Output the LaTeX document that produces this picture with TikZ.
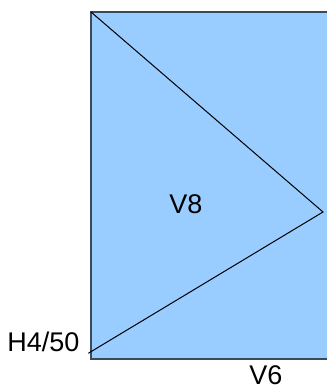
\documentclass[tikz,border=0pt]{standalone}
\usepackage{fontspec}
\setmainfont{Liberation Sans}
\definecolor{fillblue}{HTML}{99CCFF}
\definecolor{edgegray}{HTML}{3A4A5A}
\tikzset{
  lbl/.style={font=\fontsize{27}{30}\selectfont, inner sep=0pt, anchor=center},
  edge/.style={draw=black, line width=1pt}
}
\begin{document}
\begin{tikzpicture}[x=1pt,y=-1pt]
\useasboundingbox (0,0) rectangle (327,389);
\fill[fillblue] (91,12) rectangle (330,359);
\draw[edgegray, line width=1.2pt] (330,12) -- (91,12) -- (91,359) -- (330,359);
\coordinate (tl) at (91,12);
\coordinate (rm) at (323,212);
\coordinate (bl) at (88.3,353.3);
\draw[edge] (tl) -- (rm) -- (bl);
\node[lbl] (v8) at (186,204) {V8};
\node[lbl] (h4) at (43.5,342) {H4/50};
\node[lbl] (v6) at (266,375.5) {V6};
\end{tikzpicture}
\end{document}
